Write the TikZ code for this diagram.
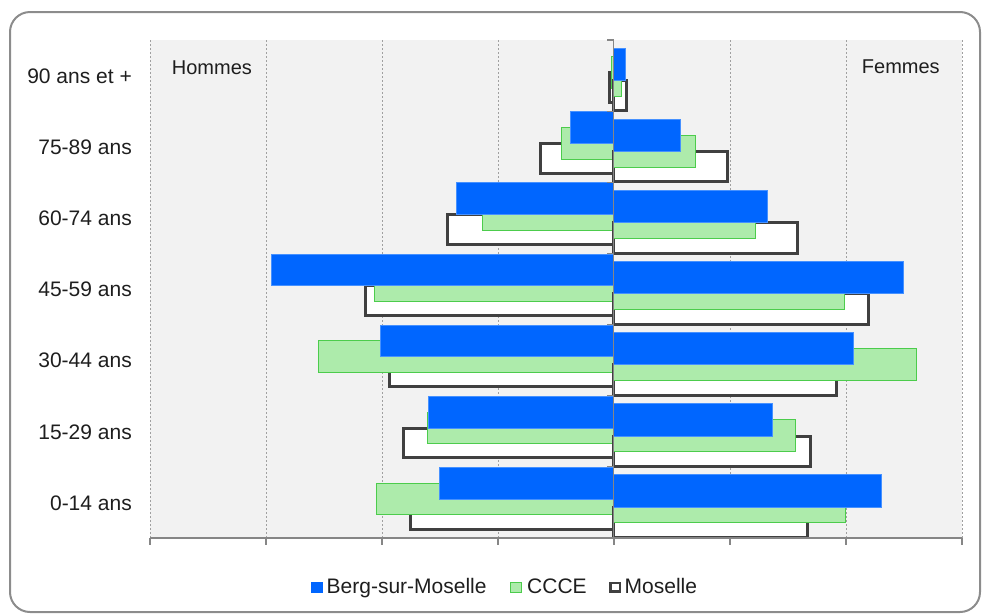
\documentclass[tikz,border=0pt]{standalone}
\usepackage{fontspec}
\setmainfont{Liberation Sans}
\definecolor{barblue}{RGB}{0,102,255}
\definecolor{barblueedge}{RGB}{70,145,255}
\definecolor{bargreen}{RGB}{173,235,171}
\definecolor{bargreenedge}{RGB}{76,204,76}
\definecolor{mosedge}{RGB}{64,64,64}
\definecolor{plotbg}{RGB}{242,242,242}
\definecolor{gridc}{RGB}{160,160,160}
\definecolor{axisc}{RGB}{134,134,134}
\definecolor{framec}{RGB}{140,140,140}
\definecolor{txt}{RGB}{30,30,30}
\begin{document}
\begin{tikzpicture}[x=1pt,y=-1pt,
  blueb/.style={fill=barblue,draw=barblueedge,line width=0.8pt},
  greenb/.style={fill=bargreen,draw=bargreenedge,line width=1pt},
  mosb/.style={fill=white,draw=mosedge,line width=3pt},
  lab/.style={font=\fontsize{21}{25}\selectfont,text=txt,inner sep=0pt},
  sidelab/.style={font=\fontsize{20}{24}\selectfont,text=txt,inner sep=0pt},
  gridl/.style={draw=gridc,line width=0.9pt,dash pattern=on 2pt off 2pt},
  axisl/.style={draw=axisc,line width=1.2pt}]
\useasboundingbox (0,0) rectangle (982,614);
% frame
\draw[framec,line width=2pt,rounded corners=20pt] (10,12) rectangle (980,612);
% plot area
\fill[plotbg] (150,40) rectangle (962,538);
\foreach \gx in {150,266,382,498,730,846,962}
  \draw[gridl] (\gx,40) -- (\gx,538);
% bars: index / blueL / greenL / mosL / blueR / greenR / mosR
\foreach \i/\bl/\gl/\ml/\br/\gr/\mr in {
  0/613.5/611/608.3/625/621.7/628.3,
  1/570/561/539/680.7/695/729.3,
  2/456/482.7/445.7/767.3/755.7/799,
  3/271/374.3/364.3/903/844.3/870,
  4/380/318.3/387.7/853.3/916.3/838.3,
  5/428.3/427/402.3/772.7/795/811.7,
  6/439.3/376.7/409/881/845.3/809.3}{
  \pgfmathsetmacro\c{40+71.143*\i}
  % left (Hommes)
  \draw[mosb] (\ml+1.5,\c+32.3) rectangle (613.5,\c+62.2);
  \draw[greenb] (\gl,\c+16.3) rectangle (613.5,\c+48);
  \draw[blueb] (\bl,\c+0.6) rectangle (613.5,\c+32.3);
  % right (Femmes)
  \draw[mosb] (613.5,\c+40.3) rectangle (\mr-1.5,\c+70.8);
  \draw[greenb] (613.5,\c+24) rectangle (\gr,\c+56);
  \draw[blueb] (613.5,\c+8) rectangle (\br,\c+40.3);
}
% axes
\draw[axisl] (613.5,40) -- (613.5,538);
\foreach \i in {0,...,7}
  \draw[axisl] (607,40+71.143*\i) -- (613.5,40+71.143*\i);
\draw[axisl] (150,538) -- (962,538);
\foreach \gx in {150,266,382,498,614,730,846,962}
  \draw[axisl] (\gx,538) -- (\gx,545);
% category labels
\node[lab,anchor=base east] (c90) at (132,83.3) {90 ans et +};
\node[lab,anchor=base east] (c75) at (132,154.4) {75-89 ans};
\node[lab,anchor=base east] (c60) at (132,225.6) {60-74 ans};
\node[lab,anchor=base east] (c45) at (132,296.7) {45-59 ans};
\node[lab,anchor=base east] (c30) at (132,367.8) {30-44 ans};
\node[lab,anchor=base east] (c15) at (132,439) {15-29 ans};
\node[lab,anchor=base east] (c00) at (132,510.1) {0-14 ans};
\node[sidelab,anchor=base west] (hom) at (171.7,74) {Hommes};
\node[sidelab,anchor=base west] (fem) at (861.7,73.3) {Femmes};
% legend
\fill[barblue] (310.5,581.5) rectangle (322.5,592.5);
\node[lab,anchor=base west] (lg1) at (326.5,593) {Berg-sur-Moselle};
\draw[greenb] (510.5,582) rectangle (521.5,592.5);
\node[lab,anchor=base west] (lg2) at (527,593) {CCCE};
\draw[mosedge,line width=2.8pt,fill=white] (610.5,583) rectangle (620,591.5);
\node[lab,anchor=base west] (lg3) at (624.5,593) {Moselle};
\end{tikzpicture}
\end{document}
